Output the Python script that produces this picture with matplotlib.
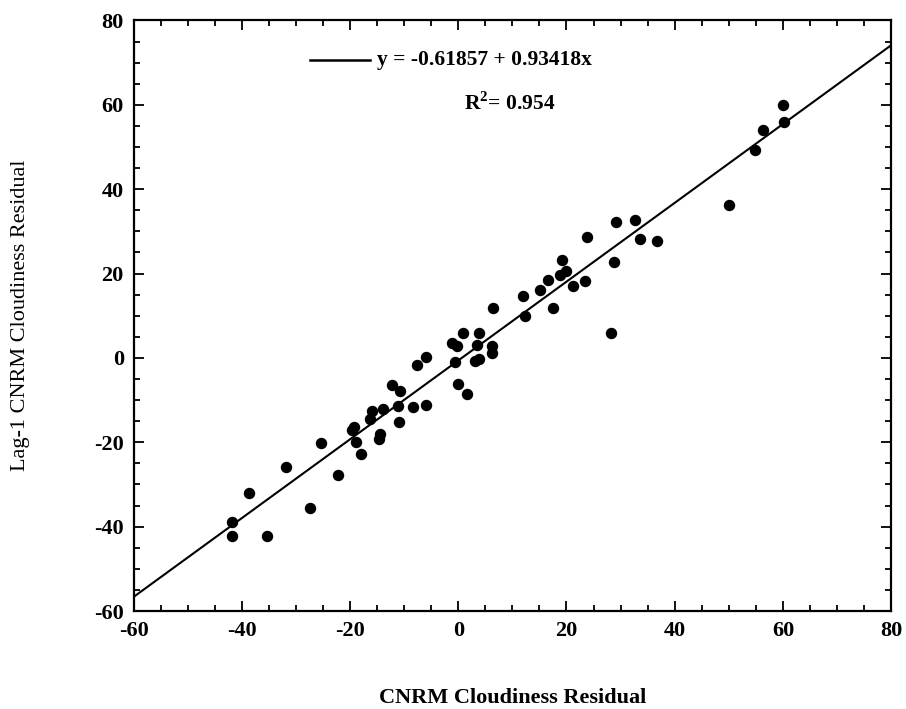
import matplotlib
matplotlib.use('Agg')
import matplotlib.pyplot as plt
import numpy as np
from matplotlib.ticker import MultipleLocator

# scatter data
x_res = [-41.8, -41.8, -38.6, -35.4, -31.8, -27.4, -25.4, -22.3, -19.7, -19.2,
         -18.9, -17.9, -16.3, -16.0, -14.6, -14.4, -13.9, -12.3, -11.2, -11.0,
         -10.7, -8.4, -7.6, -6.0, -5.9, -1.1, -0.3, -0.6, 0.0, 0.9,
         1.7, 3.1, 3.9, 3.5, 3.9, 6.2, 6.2, 6.5, 12.0, 12.4,
         15.1, 16.5, 17.6, 18.8, 19.1, 20.0, 21.2, 23.4, 23.8, 28.2,
         28.8, 29.1, 32.7, 33.5, 36.8, 50.0, 54.9, 56.4, 60.0, 60.2]
y_lag = [-38.8, -42.1, -32.1, -42.1, -25.9, -35.6, -20.2, -27.8, -17.1, -16.3,
         -19.9, -22.8, -14.6, -12.6, -19.3, -18.0, -12.0, -6.4, -11.4, -15.2,
         -7.8, -11.7, -1.6, 0.3, -11.2, 3.5, 2.9, -0.9, -6.2, 6.0,
         -8.6, -0.7, -0.3, 3.1, 6.0, 2.8, 1.2, 11.8, 14.7, 9.9,
         16.1, 18.5, 11.8, 19.6, 23.2, 20.7, 17.0, 18.2, 28.6, 6.0,
         22.8, 32.1, 32.8, 28.3, 27.8, 36.2, 49.3, 54.0, 59.9, 55.9]

# fit reported on the chart
intercept = -0.61857
slope = 0.93418
r2 = 0.954

plt.rcParams['font.family'] = ['Liberation Serif', 'DejaVu Serif']
plt.rcParams['axes.unicode_minus'] = False
plt.rcParams['mathtext.fontset'] = 'custom'
plt.rcParams['mathtext.rm'] = 'Liberation Serif:bold'
plt.rcParams['mathtext.bf'] = 'Liberation Serif:bold'

fig = plt.figure(figsize=(9.06, 7.09), dpi=100)
ax = fig.add_axes([0.1474, 0.1382, 0.8362, 0.833])

ax.scatter(x_res, y_lag, s=52, color='black', zorder=3)

line_x = np.array([-60, 80])
ax.plot(line_x, intercept + slope * line_x, color='black', lw=1.5, zorder=2)

ax.set_xlim(-60, 80)
ax.set_ylim(-60, 80)
ax.xaxis.set_major_locator(MultipleLocator(20))
ax.xaxis.set_minor_locator(MultipleLocator(5))
ax.yaxis.set_major_locator(MultipleLocator(20))
ax.yaxis.set_minor_locator(MultipleLocator(5))
ax.tick_params(which='both', direction='in', top=True, right=True, width=1.3)
ax.tick_params(which='major', length=7, labelsize=16, pad=7)
ax.tick_params(which='minor', length=4)
for lbl in ax.get_xticklabels() + ax.get_yticklabels():
    lbl.set_fontweight('bold')
for sp in ax.spines.values():
    sp.set_linewidth(1.6)

# legend-like annotation
ax.plot([0.233, 0.312], [0.933, 0.933], transform=ax.transAxes, color='black', lw=1.8)
ax.text(0.322, 0.933, 'y = -0.61857 + 0.93418x', transform=ax.transAxes,
        fontsize=15.5, fontweight='bold', va='center', ha='left')
ax.text(0.497, 0.860, r'R$^{\mathrm{2}}$= ' + f'{r2:.3f}', transform=ax.transAxes,
        fontsize=15.5, fontweight='bold', va='center', ha='center')

ax.set_xlabel('CNRM Cloudiness Residual', fontsize=16, fontweight='bold', labelpad=34)
ax.set_ylabel('Lag-1 CNRM Cloudiness Residual', fontsize=16, labelpad=46)

plt.savefig('out.png', dpi=100)
plt.close()
